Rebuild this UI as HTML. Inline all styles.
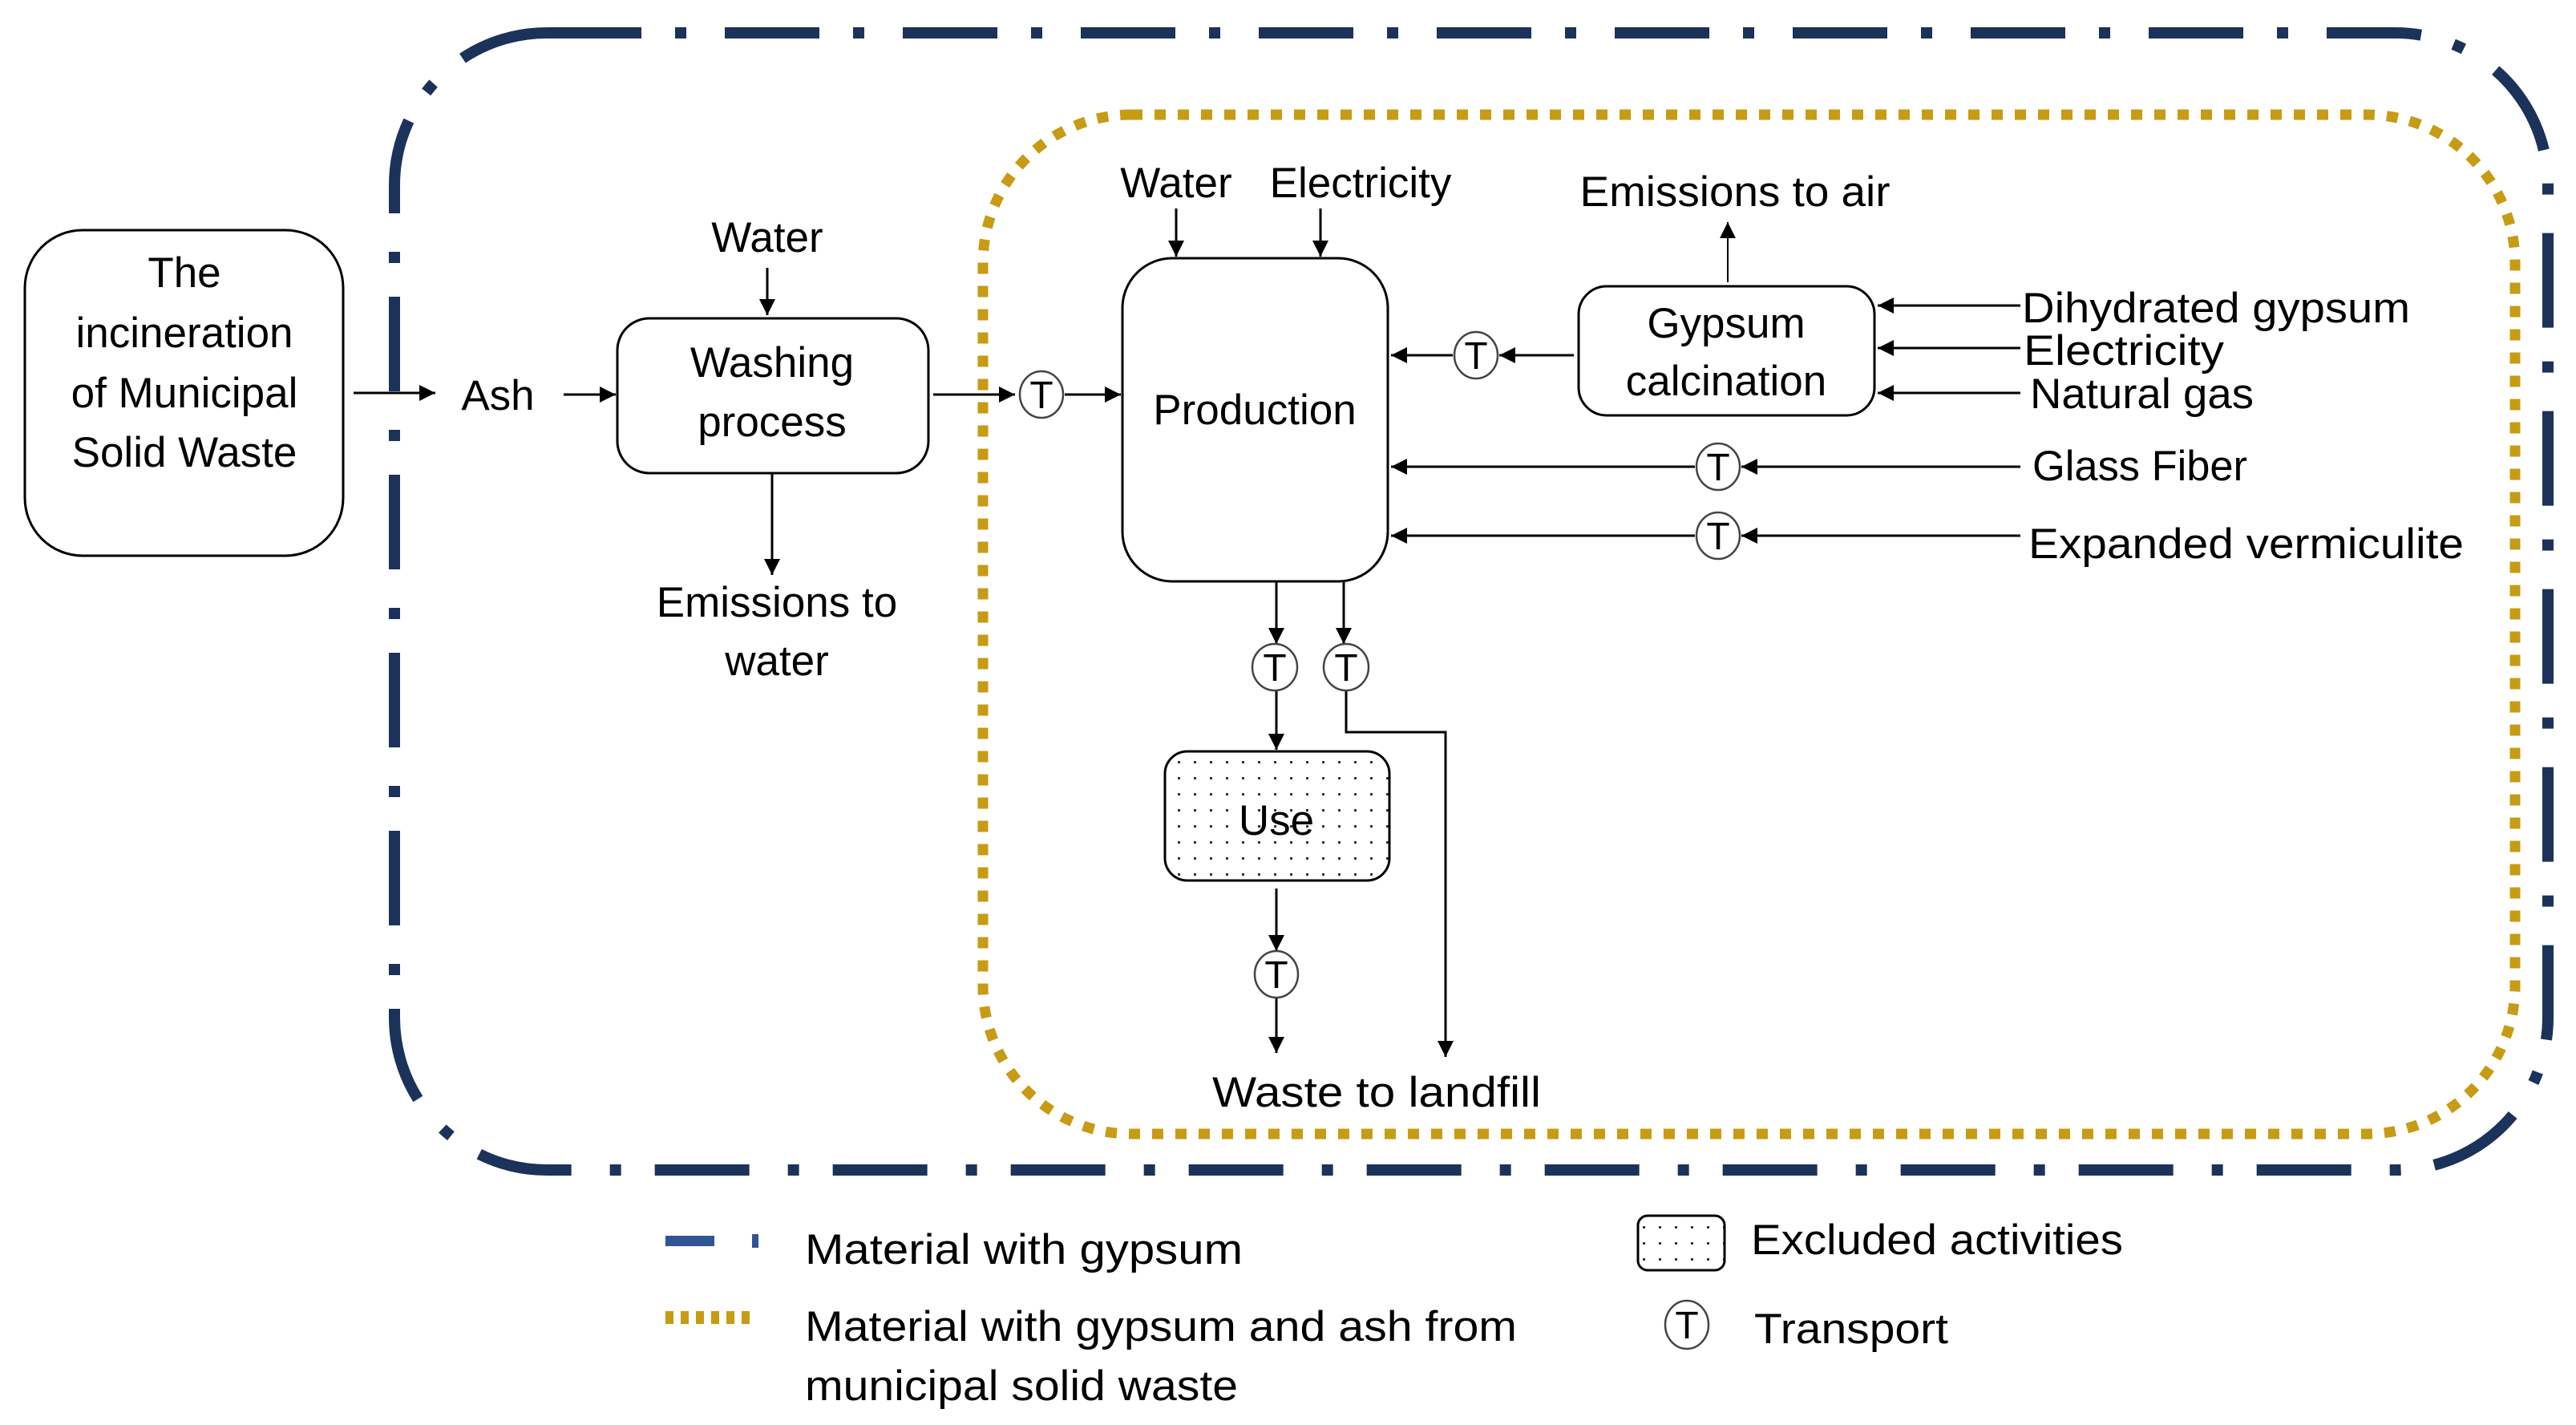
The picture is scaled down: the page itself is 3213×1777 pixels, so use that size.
<!DOCTYPE html>
<html><head><meta charset="utf-8"><style>
html,body{margin:0;padding:0;background:#fff}
svg{display:block}
text{font-family:"Liberation Sans",sans-serif;fill:#000}
</style></head><body>
<svg width="3213" height="1777" viewBox="0 0 3213 1777" xmlns="http://www.w3.org/2000/svg">
<defs>
<marker id="b" viewBox="0 0 10 10" refX="10" refY="5" markerWidth="20" markerHeight="20" orient="auto" markerUnits="userSpaceOnUse"><path d="M0,0L10,5L0,10z" fill="#000"/></marker>
<pattern id="dots" width="20" height="20" patternUnits="userSpaceOnUse"><rect x="9" y="9" width="3" height="3" fill="#333"/></pattern>
</defs>

<rect x="492" y="41" width="2686" height="1418" rx="190" fill="none" stroke="#1b325a" stroke-width="14" stroke-dasharray="118 42 14 48"/>
<rect x="1226" y="143" width="1911" height="1271" rx="185" fill="none" stroke="#c89b14" stroke-width="13" stroke-dasharray="14 15"/>

<g fill="none" stroke="#000" stroke-width="3">
<rect x="31" y="287" width="397" height="406" rx="72" fill="#fff"/>
<rect x="770" y="397" width="388" height="193" rx="40" fill="#fff"/>
<rect x="1400" y="322" width="331" height="403" rx="62" fill="#fff"/>
<rect x="1969" y="357" width="369" height="161" rx="35" fill="#fff"/>
<rect x="1453" y="937" width="280" height="161" rx="28" fill="url(#dots)"/>
</g>

<g stroke="#000" stroke-width="3" fill="none" marker-end="url(#b)">
<line x1="441" y1="490" x2="543" y2="490"/>
<line x1="703" y1="492" x2="768" y2="492"/>
<line x1="957" y1="334" x2="957" y2="393"/>
<line x1="963" y1="590" x2="963" y2="717"/>
<line x1="1164" y1="492" x2="1266" y2="492"/>
<line x1="1328" y1="492" x2="1398" y2="492"/>
<line x1="1467" y1="260" x2="1467" y2="320"/>
<line x1="1647" y1="260" x2="1647" y2="320"/>
<line x1="2155" y1="352" x2="2155" y2="277" stroke-width="2"/>
<line x1="1963" y1="443" x2="1870" y2="443"/>
<line x1="1812" y1="443" x2="1735" y2="443"/>
<line x1="2520" y1="381" x2="2342" y2="381"/>
<line x1="2520" y1="434" x2="2342" y2="434"/>
<line x1="2520" y1="490" x2="2342" y2="490"/>
<line x1="2520" y1="582" x2="2172" y2="582"/>
<line x1="2114" y1="582" x2="1735" y2="582"/>
<line x1="2520" y1="668" x2="2172" y2="668"/>
<line x1="2114" y1="668" x2="1735" y2="668"/>
<line x1="1592" y1="725" x2="1592" y2="803"/>
<line x1="1676" y1="725" x2="1676" y2="803"/>
<line x1="1592" y1="861" x2="1592" y2="935"/>
<polyline points="1679,861 1679,913 1803,913 1803,1318"/>
<line x1="1592" y1="1108" x2="1592" y2="1186"/>
<line x1="1592" y1="1244" x2="1592" y2="1313"/>
</g>

<g fill="#fff" stroke="#444" stroke-width="2.5">
<ellipse cx="1299" cy="492" rx="27" ry="29"/>
<ellipse cx="1841" cy="443" rx="27" ry="29"/>
<ellipse cx="2143" cy="582" rx="27" ry="29"/>
<ellipse cx="2143" cy="668" rx="27" ry="29"/>
<ellipse cx="1590" cy="832" rx="28" ry="29"/>
<ellipse cx="1679" cy="832" rx="28" ry="29"/>
<ellipse cx="1592" cy="1215" rx="27" ry="29"/>
<ellipse cx="2104" cy="1652" rx="27" ry="30"/>
</g>
<g font-size="48" text-anchor="middle">
<text x="1299" y="509">T</text><text x="1841" y="460">T</text>
<text x="2143" y="599">T</text><text x="2143" y="685">T</text>
<text x="1590" y="849">T</text><text x="1679" y="849">T</text>
<text x="1592" y="1232">T</text><text x="2104" y="1669">T</text>
</g>

<g font-size="53" text-anchor="middle">
<text x="230" y="358">The</text>
<text x="230" y="433">incineration</text>
<text x="230" y="508">of Municipal</text>
<text x="230" y="582">Solid Waste</text>
<text x="621" y="511">Ash</text>
<text x="957" y="314">Water</text>
<text x="963" y="470">Washing</text>
<text x="963" y="544">process</text>
<text x="969" y="769">Emissions to</text>
<text x="969" y="842">water</text>
<text x="1467" y="246">Water</text>
<text x="1697" y="246">Electricity</text>
<text x="1565" y="529">Production</text>
<text x="2164" y="257" textLength="387" lengthAdjust="spacingAndGlyphs">Emissions to air</text>
<text x="2153" y="421">Gypsum</text>
<text x="2153" y="493">calcination</text>
<text x="1592" y="1041">Use</text>
<text x="1717" y="1380" textLength="410" lengthAdjust="spacingAndGlyphs">Waste to landfill</text>
</g>
<g font-size="53">
<text x="2522" y="402" textLength="484" lengthAdjust="spacingAndGlyphs">Dihydrated gypsum</text>
<text x="2524" y="455" textLength="250" lengthAdjust="spacingAndGlyphs">Electricity</text>
<text x="2532" y="509" textLength="279" lengthAdjust="spacingAndGlyphs">Natural gas</text>
<text x="2535" y="599" textLength="268" lengthAdjust="spacingAndGlyphs">Glass Fiber</text>
<text x="2530" y="696" textLength="543" lengthAdjust="spacingAndGlyphs">Expanded vermiculite</text>
</g>

<rect x="830" y="1541" width="61" height="13" fill="#2f5597"/>
<rect x="938" y="1539" width="8" height="17" fill="#2f5597"/>
<line x1="830" y1="1643" x2="940" y2="1643" stroke="#c89b14" stroke-width="16" stroke-dasharray="10 9"/>
<rect x="2043" y="1516" width="108" height="68" rx="12" fill="url(#dots)" stroke="#000" stroke-width="3"/>
<g font-size="53">
<text x="1004" y="1576" textLength="546" lengthAdjust="spacingAndGlyphs">Material with gypsum</text>
<text x="1004" y="1672" textLength="888" lengthAdjust="spacingAndGlyphs">Material with gypsum and ash from</text>
<text x="1004" y="1746" textLength="540" lengthAdjust="spacingAndGlyphs">municipal solid waste</text>
<text x="2184" y="1564" textLength="464" lengthAdjust="spacingAndGlyphs">Excluded activities</text>
<text x="2188" y="1675" textLength="242" lengthAdjust="spacingAndGlyphs">Transport</text>
</g>
</svg>
</body></html>
